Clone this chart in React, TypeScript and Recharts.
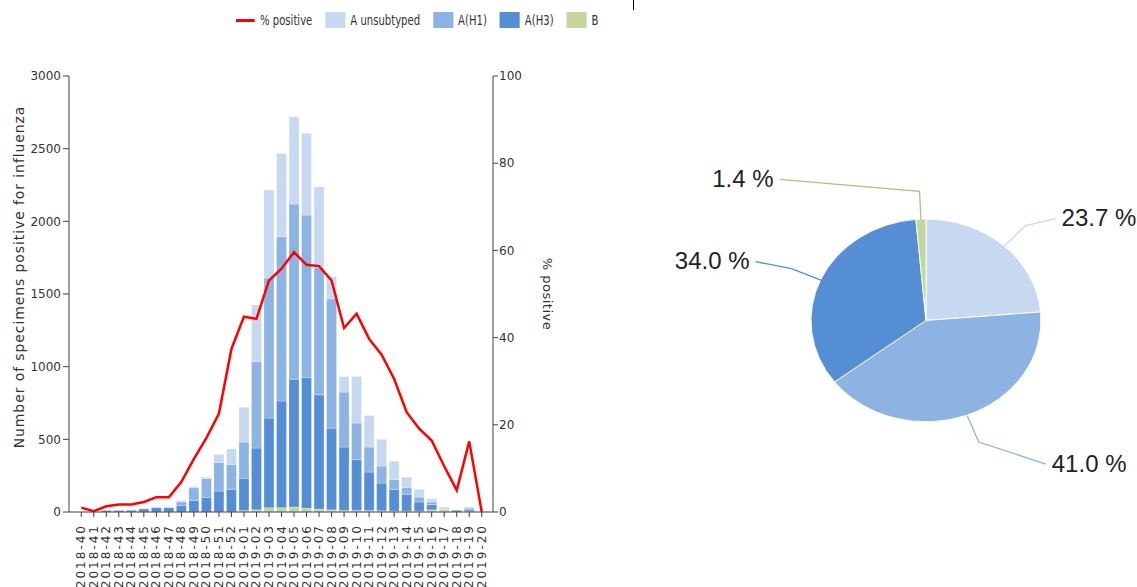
import React from 'react';
import { Bar, ComposedChart, Label, Legend, Line, Pie, PieChart, Cell, XAxis, YAxis } from 'recharts';

const weeks = [
  '2018-40', '2018-41', '2018-42', '2018-43', '2018-44', '2018-45', '2018-46', '2018-47', '2018-48',
  '2018-49', '2018-50', '2018-51', '2018-52', '2019-01', '2019-02', '2019-03', '2019-04', '2019-05',
  '2019-06', '2019-07', '2019-08', '2019-09', '2019-10', '2019-11', '2019-12', '2019-13', '2019-14',
  '2019-15', '2019-16', '2019-17', '2019-18', '2019-19', '2019-20',
];
const fluB = [0, 0, 0, 0, 0, 0, 0, 0, 0, 0, 0, 0, 0, 10, 15, 30, 30, 34, 25, 20, 15, 10, 10, 10, 8, 6, 6, 6, 15, 18, 0, 3, 0];
const fluH3 = [0, 0, 12, 12, 13, 22, 30, 30, 46, 80, 101, 144, 156, 222, 425, 616, 733, 880, 900, 786, 562, 437, 350, 265, 191, 150, 116, 63, 36, 0, 12, 12, 0];
const fluH1 = [0, 0, 0, 0, 0, 0, 0, 0, 25, 87, 130, 197, 171, 249, 595, 964, 1131, 1205, 1118, 874, 889, 378, 252, 172, 117, 67, 46, 34, 18, 0, 0, 12, 0];
const fluUnsub = [0, 0, 3, 3, 2, 3, 7, 7, 9, 9, 9, 55, 108, 240, 390, 605, 572, 599, 563, 557, 153, 107, 320, 217, 184, 127, 72, 53, 23, 16, 0, 7, 0];
const pctPositive = [1.0, 0.2, 1.3, 1.7, 1.7, 2.3, 3.4, 3.4, 6.9, 12.2, 17.0, 22.6, 37.4, 44.8, 44.3, 53.1, 55.8, 59.6, 56.7, 56.4, 53.1, 42.2, 45.5, 39.7, 36.1, 30.5, 22.9, 19.1, 16.4, 10.5, 5.0, 16.2, 0];
const countTicks = [0, 500, 1000, 1500, 2000, 2500, 3000];
const pctTicks = [0, 20, 40, 60, 80, 100];

const pieNames = ['A unsubtyped', 'A(H1)', 'A(H3)', 'B'];
const pieShares = [23.7, 41.0, 34.0, 1.4];

const C_UNSUB = '#c6d9f0';
const C_H1 = '#8db3e2';
const C_H3 = '#558ed5';
const C_B = '#c3d69b';
const pieColors = [C_UNSUB, C_H1, C_H3, C_B];
const lineColors = [C_UNSUB, C_H1, C_H3, '#a9c477'];

const legendItems = [
  { name: '% positive', color: '#ff0000', kind: 'line' },
  { name: 'A unsubtyped', color: C_UNSUB, kind: 'box' },
  { name: 'A(H1)', color: C_H1, kind: 'box' },
  { name: 'A(H3)', color: C_H3, kind: 'box' },
  { name: 'B', color: C_B, kind: 'box' },
];

const rows = weeks.map((week, i) => ({
  week,
  b: fluB[i],
  h3: fluH3[i],
  h1: fluH1[i],
  unsub: fluUnsub[i],
  pct: pctPositive[i],
}));
const pieData = pieNames.map((name, i) => ({ name, value: pieShares[i] }));

// pie is drawn as a flattened ellipse
const SQUASH = 0.882;
const PIE_CX = 321;
const PIE_CY = 256;
const PIE_R = 115;
// leader line bend after the elbow, per slice
const leaderBends = [[30, -7], [67, 22], [-36, -7], [-140, -12]];

// legend text in the original is tall and narrow
const LEGEND_SQUEEZE = 0.72;

const tickFont = 'DejaVu Sans, sans-serif';
const axisColor = '#404040';

function WeekTick(props: any) {
  const { x, y, payload } = props;
  const ty = y + 5;
  return (
    <text
      x={x}
      y={ty}
      transform={`rotate(-90 ${x} ${ty})`}
      textAnchor="end"
      dominantBaseline="central"
      fontSize={12}
      letterSpacing={2}
      fontFamily="DejaVu Sans, sans-serif"
      fill="#333"
    >
      {payload.value}
    </text>
  );
}

function LegendBox() {
  const k = LEGEND_SQUEEZE;
  return (
    <div
      style={{
        display: 'flex',
        alignItems: 'center',
        height: 22,
        whiteSpace: 'nowrap',
        fontFamily: 'DejaVu Sans, sans-serif',
        fontSize: 14,
        color: '#333',
        transform: `scaleX(${k})`,
        transformOrigin: '0 50%',
      }}
    >
      {legendItems.map((it) => (
        <div key={it.name} style={{ display: 'flex', alignItems: 'center', marginRight: 13 / k, flex: 'none' }}>
          {it.kind === 'line' ? (
            <span style={{ width: 19 / k, height: 3, background: it.color, display: 'inline-block' }} />
          ) : (
            <span style={{ width: 20 / k, height: 16, background: it.color, display: 'inline-block' }} />
          )}
          <span style={{ marginLeft: 5 / k }}>{it.name}</span>
        </div>
      ))}
    </div>
  );
}

function PieLabel(props: any) {
  const { cx, cy, midAngle, outerRadius, index, value } = props;
  const rad = (-midAngle * Math.PI) / 180;
  const cos = Math.cos(rad);
  const sin = Math.sin(rad);
  const sx = cx + outerRadius * cos;
  const sy = cy + outerRadius * sin * SQUASH;
  const ex = cx + (outerRadius + 32) * cos;
  const ey = cy + (outerRadius + 32) * sin * SQUASH;
  const [bx, by] = leaderBends[index];
  const tx = ex + bx;
  const ty = ey + by;
  const right = bx > 0;
  return (
    <g>
      <polyline
        points={`${sx},${sy} ${ex},${ey} ${tx},${ty}`}
        fill="none"
        stroke={lineColors[index]}
        strokeWidth={1.3}
      />
      <text
        x={tx + (right ? 6 : -6)}
        y={ty - 1}
        textAnchor={right ? 'start' : 'end'}
        dominantBaseline="central"
        fontSize={24}
        fontFamily="Liberation Sans, Arial, sans-serif"
        fill="#222"
      >
        {`${value.toFixed(1)} %`}
      </text>
    </g>
  );
}

export default function App() {
  return (
    <div style={{ position: 'absolute', left: 0, top: 0, width: 1137, height: 587, overflow: 'hidden', background: '#fff' }}>
      <div style={{ position: 'absolute', left: 633, top: 0, width: 1, height: 10, background: '#000' }} />
      <div style={{ position: 'absolute', left: 0, top: 0 }}>
        <ComposedChart
          width={620}
          height={620}
          data={rows}
          margin={{ top: 54, right: 60, bottom: 0, left: 0 }}
          barCategoryGap="10%"
        >
          <Legend
            verticalAlign="top"
            content={() => <LegendBox />}
            wrapperStyle={{ top: 9, left: 236, width: 520 }}
          />
          <XAxis
            dataKey="week"
            interval={0}
            height={108}
            padding={{ left: 6, right: 5 }}
            tick={<WeekTick />}
            tickSize={5}
            axisLine={{ stroke: axisColor }}
            tickLine={{ stroke: axisColor }}
          />
          <YAxis
            yAxisId="n"
            width={69}
            domain={[0, 3000]}
            ticks={countTicks}
            tickSize={6}
            tickMargin={2}
            axisLine={{ stroke: axisColor }}
            tickLine={{ stroke: axisColor }}
            tick={{ fontSize: 12, fontFamily: tickFont, fill: '#333' }}
          >
            <Label
              value="Number of specimens positive for influenza"
              angle={-90}
              position="insideLeft"
              dx={14}
              dy={-17}
              style={{ textAnchor: 'middle', fontSize: 14, letterSpacing: 0.9, fontFamily: 'DejaVu Sans, sans-serif', fill: '#333' }}
            />
          </YAxis>
          <YAxis
            yAxisId="p"
            orientation="right"
            width={67}
            domain={[0, 100]}
            ticks={pctTicks}
            tickSize={5}
            tickMargin={1}
            axisLine={{ stroke: axisColor }}
            tickLine={{ stroke: axisColor }}
            tick={{ fontSize: 12, fontFamily: tickFont, fill: '#333' }}
          >
            <Label
              value="% positive"
              angle={90}
              position="insideRight"
              dx={-7}
              style={{ textAnchor: 'middle', fontSize: 13, letterSpacing: 0.5, fontFamily: 'DejaVu Sans, sans-serif', fill: '#333' }}
            />
          </YAxis>
          <Bar yAxisId="n" dataKey="b" stackId="s" fill={C_B} stroke="#fff" strokeOpacity={0.5} strokeWidth={0.5} isAnimationActive={false} />
          <Bar yAxisId="n" dataKey="h3" stackId="s" fill={C_H3} stroke="#fff" strokeOpacity={0.5} strokeWidth={0.5} isAnimationActive={false} />
          <Bar yAxisId="n" dataKey="h1" stackId="s" fill={C_H1} stroke="#fff" strokeOpacity={0.5} strokeWidth={0.5} isAnimationActive={false} />
          <Bar yAxisId="n" dataKey="unsub" stackId="s" fill={C_UNSUB} stroke="#fff" strokeOpacity={0.5} strokeWidth={0.5} isAnimationActive={false} />
          <Line
            yAxisId="p"
            type="linear"
            dataKey="pct"
            stroke="#ff0000"
            strokeWidth={2.5}
            dot={false}
            isAnimationActive={false}
          />
        </ComposedChart>
      </div>

      <div
        style={{
          position: 'absolute',
          left: 600,
          top: 60,
          transform: `scaleY(${SQUASH})`,
          transformOrigin: `${PIE_CX}px ${PIE_CY}px`,
        }}
      >
        <PieChart width={537} height={480}>
          <Pie
            data={pieData}
            dataKey="value"
            cx={PIE_CX}
            cy={PIE_CY}
            outerRadius={PIE_R}
            startAngle={90}
            endAngle={-270}
            stroke="#ffffff"
            strokeWidth={1}
            isAnimationActive={false}
          >
            {pieData.map((d, i) => (
              <Cell key={d.name} fill={pieColors[i]} />
            ))}
          </Pie>
        </PieChart>
      </div>
      <div style={{ position: 'absolute', left: 600, top: 60 }}>
        <PieChart width={537} height={480}>
          <Pie
            data={pieData}
            dataKey="value"
            cx={PIE_CX}
            cy={PIE_CY}
            outerRadius={PIE_R}
            startAngle={90}
            endAngle={-270}
            fillOpacity={0}
            stroke="none"
            label={PieLabel}
            labelLine={false}
            isAnimationActive={false}
          />
        </PieChart>
      </div>
    </div>
  );
}
